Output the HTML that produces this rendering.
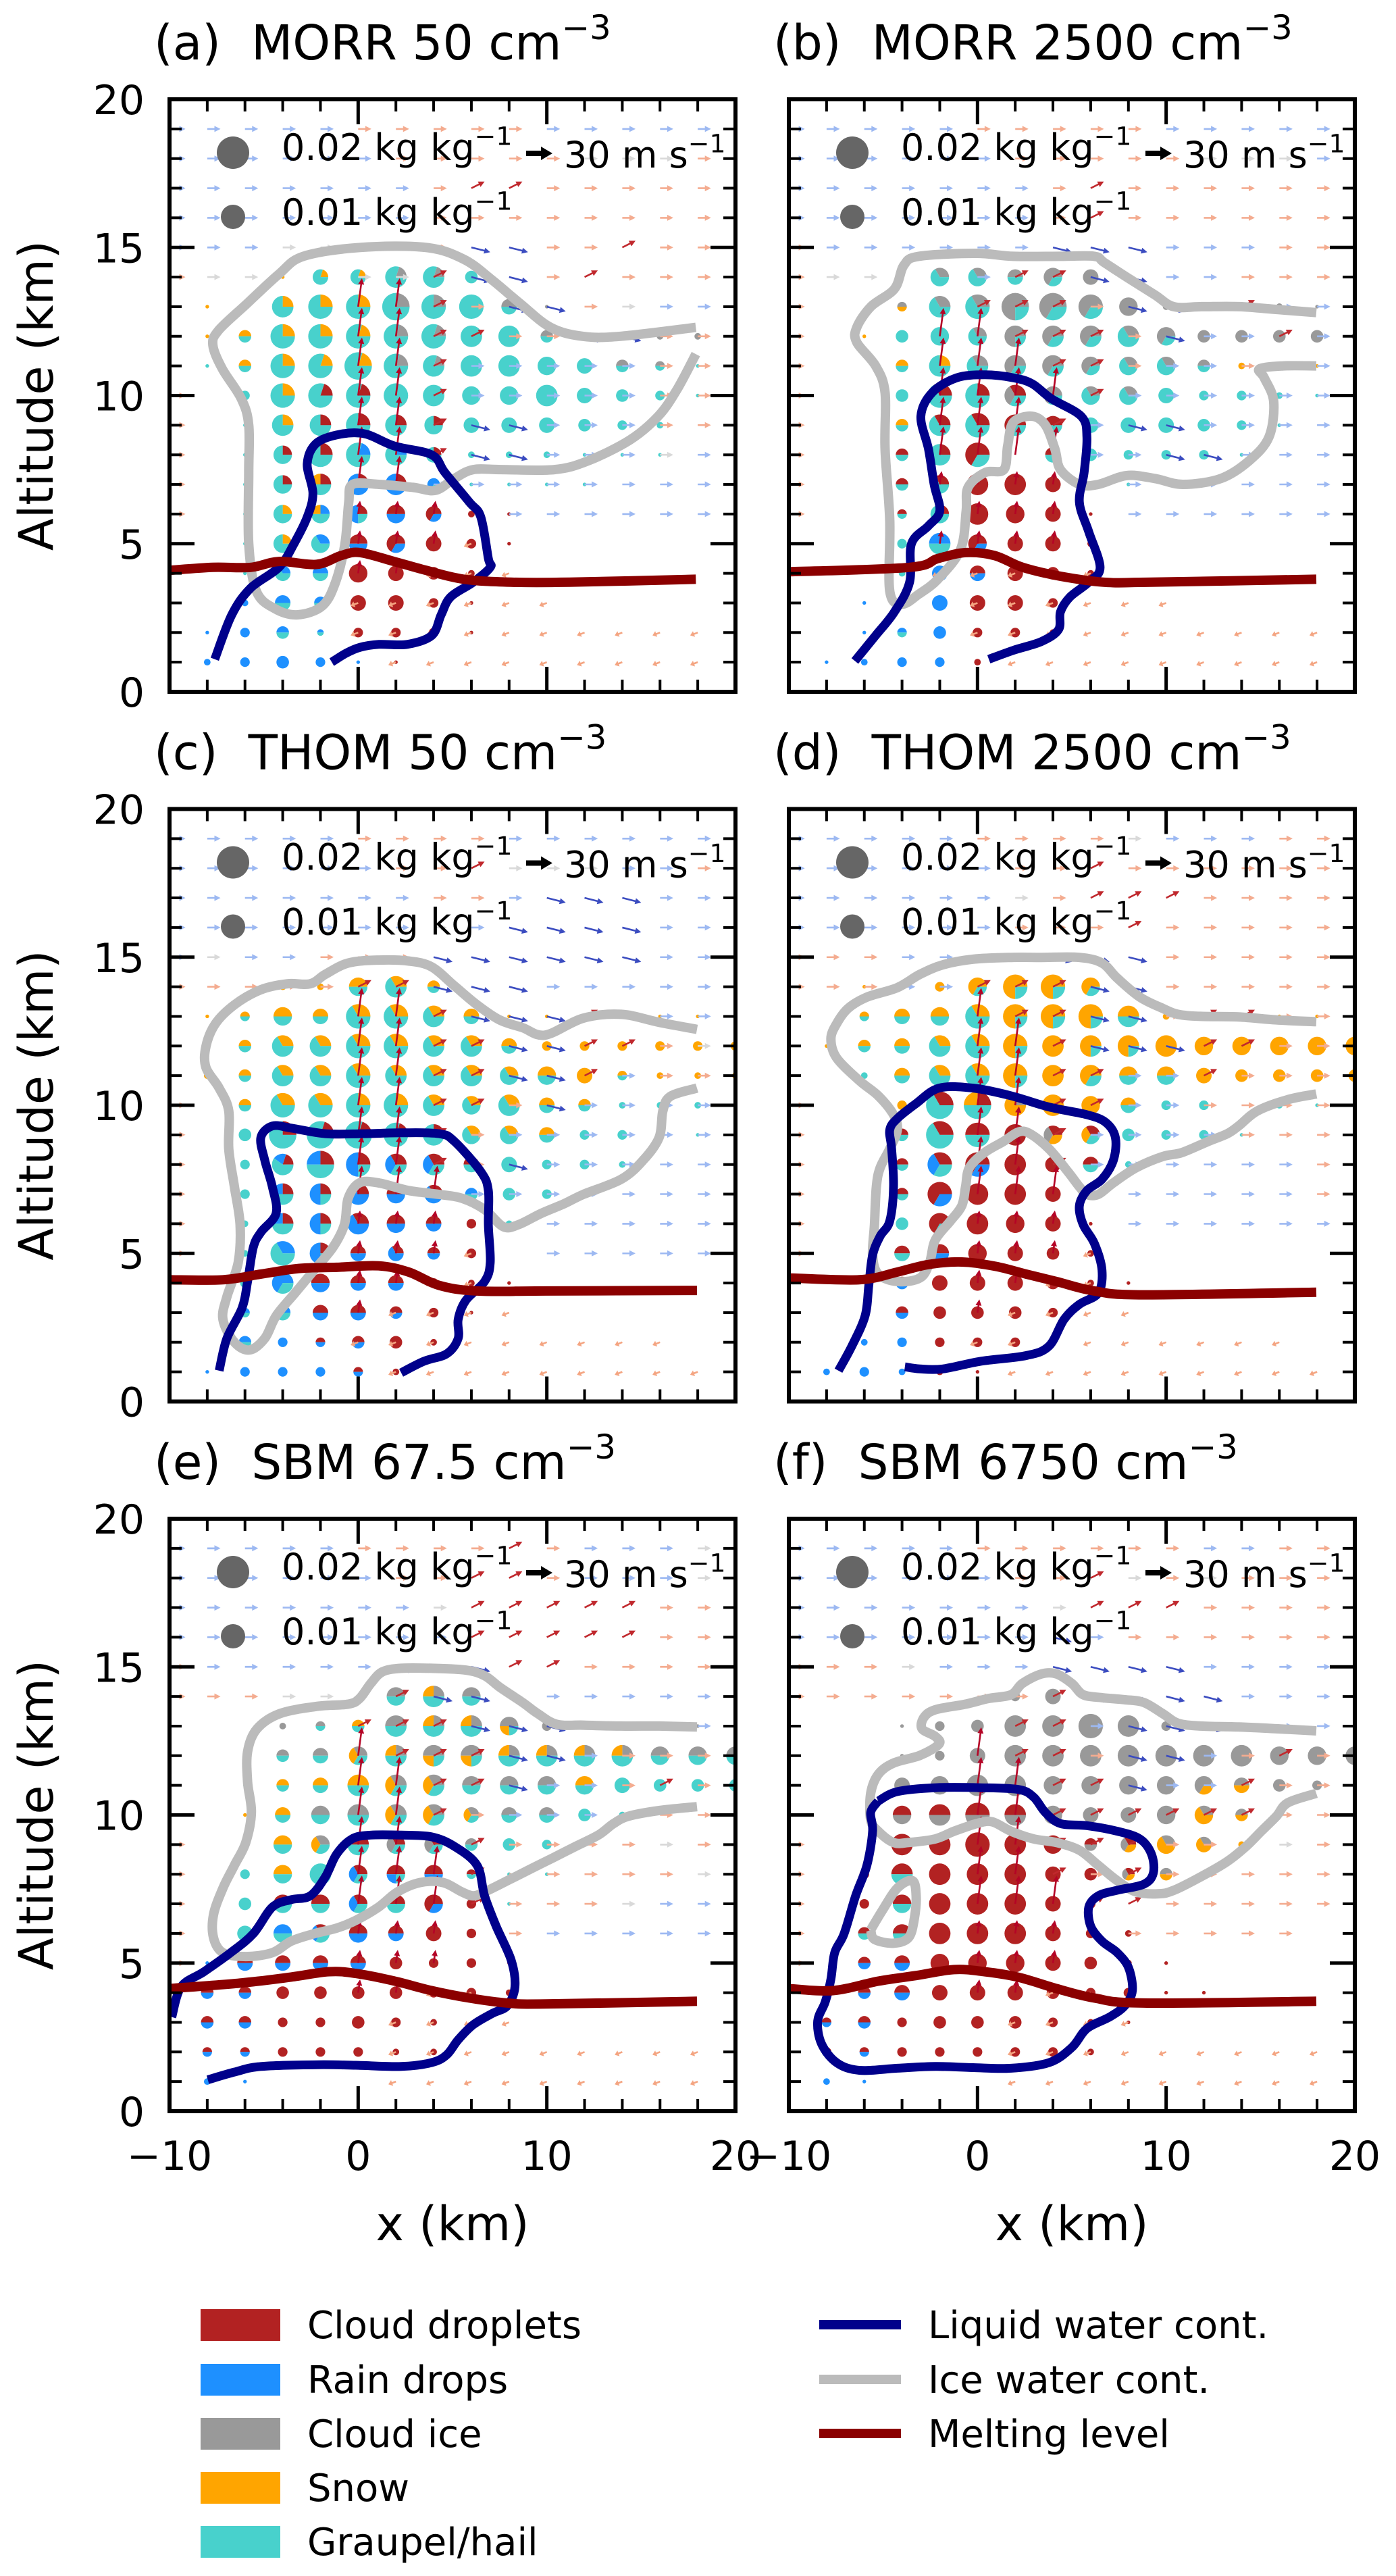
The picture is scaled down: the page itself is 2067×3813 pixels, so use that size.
<!DOCTYPE html>
<html><head><meta charset="utf-8"><title>Hydrometeor pie chart panels</title>
<style>
html,body{margin:0;padding:0;background:#fff;}
svg{display:block;font-family:"DejaVu Sans","Liberation Sans",sans-serif;}
</style></head>
<body>
<svg id="fig" xmlns="http://www.w3.org/2000/svg" width="2067" height="3813" viewBox="0 0 2067 3813">
<rect x="0" y="0" width="2067" height="3813" fill="#fff"/>
<g id="panels"></g>
<g id="legend">
  <rect x="297" y="3418" width="118" height="47" fill="#b22222"/>
  <text x="455" y="3461" font-size="56">Cloud droplets</text>
  <rect x="297" y="3499" width="118" height="47" fill="#1e90ff"/>
  <text x="455" y="3542" font-size="56">Rain drops</text>
  <rect x="297" y="3579" width="118" height="47" fill="#999999"/>
  <text x="455" y="3622" font-size="56">Cloud ice</text>
  <rect x="297" y="3659" width="118" height="47" fill="#ffa500"/>
  <text x="455" y="3702" font-size="56">Snow</text>
  <rect x="297" y="3739" width="118" height="47" fill="#48d1cc"/>
  <text x="455" y="3782" font-size="56">Graupel/hail</text>
  <line x1="1213" y1="3441" x2="1334" y2="3441" stroke="#00008b" stroke-width="14"/>
  <text x="1374" y="3461" font-size="56">Liquid water cont.</text>
  <line x1="1213" y1="3522" x2="1334" y2="3522" stroke="#bbbbbb" stroke-width="14"/>
  <text x="1374" y="3542" font-size="56">Ice water cont.</text>
  <line x1="1213" y1="3602" x2="1334" y2="3602" stroke="#8b0000" stroke-width="14"/>
  <text x="1374" y="3622" font-size="56">Melting level</text>
</g>
</svg>
<script>
// ---------------- DATA ----------------
const pieXs = [-8,-6,-4,-2,0,2,4,6,8,10,12,14,16,18,20];
const pieZs = [14,13,12,11,10,9,8,7,6,5,4,3,2,1];
const piesA = [
". . 1s 5ggggs 5ggggs 7ggggi 7ggggi 4g . . . . . . .",
"1s 2s 7gggs 8gggs 8gggs 9gggi 8gggi 8g 5gi 1i . . . . .",
"1s 4gs 8gggs 8gggs 8ggggs 8ggggi 8ggggi 7g 7g 4gi 2i 2i 2i 2i .",
"1g 4gs 8gggs 8ggggs 9ggggs 8ggggi 7ggggi 7g 7g 6g 5g 4gi 3gi 1g .",
". 3g 8gggs 8ggggc 8ggggc 8gggg 7g 6g 6g 7g 5g 4g 3g 1g .",
". 1g 7gggs 7gggc 8gggc 7gggc 6gggc 5g 5g 5g 4g 3g 2g . .",
". 1g 6gggc 8gggc 8ggggr 7gggr 5gggc 2g 2g 2g 1g 1g 1g . .",
". 1g 6gggc 7ggcs 7rrrc 7rrrc 4rrg 1g 1g 1g 1g . . . .",
". 1g 6gggs 6ggrs 6rrcg 6cr 5ccr 2c 1c . . . . . .",
". 1g 6gggs 6ggr 6cr 6ccr 5c 3c 1c . . . . . .",
". 1g 5ggr 5rg 6c 5c 4c 2c . . . . . . .",
". 2r 5rg 4rg 5c 5c 3c 1c . . . . . . .",
"1r 3r 4rg 2rg 3c 3c 3c 1c . . . . . . .",
"2r 3r 4r 3r 1r 1c . . . . . . . . ."];
const piesB = [
". . . 6ggi 6ggi 5gi 6iig 5i . . . . . . .",
". . 3is 7ggi 8ggi 9iiig 9iig 8iig 6i 2i 2i 2i 2i 1i .",
". 1s 4g 6g 6ggi 7iiig 7iig 7iig 7ggi 6iig 4i 4i 4i 4i 2i",
". . 4gs 7gggs 7ggi 7iig 7iig 6iig 6ggi 6ggi 4ig 2s 1s 1s .",
". . 4g 8ggc 8gggc 7icg 6iig 6ggi 6ggi 5g 3g 3g 2g 1g .",
". . 4gs 7ggc 8ggc 7ccg 6cg 5g 5g 5g 4g 3g 1g . .",
". . 4gc 7gggc 8ccg . 5cg 4g 3g 3g 3g 1g . . .",
". . 4gc 6ggc 7c 7c 5c 2g 1g . . . . . .",
". . 3gc 6ggc 7c 6c 5c 1c . . . . . . .",
". . 3g 7rrgg 6ccr 5c 5c 2c . . . . . . .",
". . 2g 5r 5cr 5c 4c 2c . . . . . . .",
". 1r 3rg 5r 5c 5c 3c . . . . . . . .",
". 1r 3rg 4r 3c 3c 2c . . . . . . . .",
"1r 2r 3r 3r 2c . . . . . . . . . ."];
const piesC = [
". . 2s 2s 6gs 7ggs 4sg . . . . . . . .",
"1s 3sg 6gs 5gs 8ggs 8ggs 7ggs 5sg 1s 1s 1s 1s 1s 1s .",
"1s 4gs 7ggs 7ggs 8ggs 8ggs 7ggs 7ggs 5sg 3s 3s 3s 3s 3s 3s",
"2s 4gs 7ggs 7ggs 8ggs 7ggs 7ggs 7ggs 6ggs 6gs 5s 3sg 2s 2s 2s",
". 4gs 8ggs 8ggs 8gggs 8gggs 7ggs 6ggs 7ggs 5gs 4gs 2g 2g 2g .",
". 4g 9gggc 9ggggc 9ggggc 8ggggc 7gggc 6ggs 6ggs 5gs 3g 3g 1g 1g .",
". 3g 7gggcr 9ggrc 8rrgc 7rgc 7grc 5gc 5g 3g 3g 2g . . .",
". 3g 7ggcr 7rrgc 7rrc 6rc 6rrc 4rg 4g 3g 2g . . . .",
". 2g 7ggrc 7rrgc 7rrc 6rc 5cr 3c 2g . . . . . .",
". 2g 8rgg 7rrgc 5rc 5crr 4cr 3c . . . . . . .",
". 3g 7rrg 6rc 5rc 5rc 3c 2c 1c . . . . . .",
". 3rg 5rg 5rc 5rc 4rc 3c 1c . . . . . . .",
". 4rg 3r 3rc 4cr 4c 2c . . . . . . . .",
"1r 3r 3r 3r 3rc 2c . . . . . . . . ."];
const piesD = [
". 1s 1s 3s 6ssg 8sssg 8sssg 6ssg . . . . . . .",
". 3sg 5sg 6sg 8ggs 8sssg 8sssg 8sssg 7sg 2s 1s 1s 1s 1s .",
"1s 4sg 5gs 7ggs 8ggs 8sssg 7s 7sssg 7sssg 7s 6s 6s 6s 6s 6s",
". 2g 5gs 7ggs 8ggs 8sssg 7s 7ssg 6gs 6sg 5s 4s 4s 4s 4s",
". . 3s 9ggc 9ggcs 7sssi 7s 6s 5gs 3g 3g . 2g 1g .",
". . 4cg 9ggc 8cg 7c 6cis 6csg 4g 3g 3g 1g . . .",
". . 4gc 8crg 8ccr 7c 5c 5cg 2g . . . . . .",
". . 4gc 8ccr 7c 7c 5c . . . . . . . .",
". . 4g 7ccg 7c 6c 5c 1c . . . . . . .",
". . 5gc 6cr 6c 5c 4c 2c . . . . . . .",
". . 4rc 5c 5c 5c 4c 2c 1c . . . . . .",
". 1r 4rc 4c 4c 4c 3c . . . . . . . .",
". 2r 3r 3c 3c 3c 2c . . . . . . . .",
"2r 3r 2r 2c 1c . . . . . . . . . ."];
const piesE = [
". . . . 1g 6gi 7ggsi 6gi . . . . . . .",
". . 2i 3gi 4gs 7gi 7ggis 7ggsi 6iigs 3i 2i 1i 1i 1i .",
". 1g 4gi 5gi 6gis 7ggis 7giis 7iigs 7ggis 7ggsi 7ggsi 7ggsi 6gi 6gi 6gi",
". 1g 4gs 5gs 7gs 7gis 7gis 6gi 6gi 6gi 6gs 5g 4g 4g 4g",
". 1s 5gs 6gi 7gi 7gis 7gsi 5gsi 5gi 5gi 4g 2g . . .",
". 1s 6gs 6gis 7gc 6gic 6igc 4gi 4g 3g 1g . . . .",
". 3g 6gs 7g 6grc 6rccg 6cr 3cg 1g 1g . . . . .",
". 4g 6gc 6gc 6rcg 6cg 6ccr 3c 1g . . . . . .",
". 5g 6rg 6rgc 6rc 5cr 5c 3c . . . . . . .",
"1r 5rc 5rc 5cr 5cr 4c 3c 3c 1c . . . . . .",
"4rc 4rc 4c 4c 4c 4c 3c 3c 2c . . . . . .",
"4rc 4cr 3c 3c 4c 3c 2c . . . . . . . .",
"3rc 3cr 3c 3c 3c 2c 2c . . . . . . . .",
"2r 1r . . . . . . . . . . . . ."];
const piesF = [
". . . . . 3i 5i . . . . . . . .",
". . 1i 3i 4i 7i 7i 8i 7i 3i 2i 1i . . .",
". . 1i 3i 5i 7i 7i 7i 7i 7i 7i 7i 6i 6i 6i",
". . 5i 6i 7i 7i 6i 6i 6i 6i 6iis 5is 4i 3i .",
". . 6ci 7ci 8ci 7ci 6i 5i 5i 6i 6iss 4is . . .",
". . 7c 7c 8c 7c 6c 4ci 5cis 6ssi 5ssi 2s . . .",
". 3c 7cg 7c 7c 7c 5c 4c 4csi 4si . . . . .",
". 3c 6cg 7c 7c 7c 5c 3c . . . . . . .",
". 4cg 6cg 7c 7c 7c 5c 3c 2c . . . . . .",
". 4cr 5cr 6c 6c 6c 5c 4c 2c 1c . . . . .",
"1r 4cr 5cr 5c 5c 5c 4c 3c 3c 1c 1c . . . .",
"3cr 4cr 3c 4c 4c 4c 3c 2c 1c . . . . . .",
"3cr 3cr 3c 3c 3c 3c 3c 2c . . . . . . .",
"2r 1r . . . . . . . . . . . . ."];

const arrowXs = [-10,-8,-6,-4,-2,0,2,4,6,8,10,12,14,16,18];
const arrowZs = [19,18,17,16,15,14,13,12,11,10,9,8,7,6,5,4,3,2,1];
const windA = ["bbbbbpppppbbbbb","bbbbbbpppppgggp","bbbbbbbpRRppppp","bbbbbbbpppppppp","bbbgggppBBppRpp","pgg..ggRBBpRppp",".....UURpBBpgbb",".....UURRppBBpp",".....UURbbbbbpp","p....UURbbbbbpp","p....UURBBbbbpp","p....UURBBbbbgb","p....UUbbbbbbbb","p....uuu.bbbbbb",".....uuul......",".....uulll.....",".....llllll....",".....llllllllll","......lllllllll"];
const windB = ["bbbbbpppppbbbbb","bbbbbbpppppgggb","bbbbbbbpRpppppp","bbbbbbbpRpppppp","pbbbbbbBBBbbbpp","pgg..bRRBBbbppp","p....RRRpBBbRbb","p...UURRRpBbbRb","p...UUURRpbbpbb","p...UUUURbbbbbb","p...UUURbBBbbbb","p...UUUUbbBBbbb","p...uuuu.bbbbbb","p...uuuu.bbbbbb","....uuuu.......","....lllll......",".....llllll....",".....llllllllll","......lllllllll"];
const windC = ["bbbbbppppbbbbbb","bbbbbbppRgggbbp","bbbbbbbppbBBBbb","bbbbbbbgbBBBBbb","bgbbpppBBBBBBbb","pppppRRBBBbbbbb",".....UURBBBRbbb",".....UURRBBRRpg",".....UURRBBRbpp","p....UURRpBbbbb","p....UURpbbbbbb","p....UURpBbbbbb","p....UUUbbbbbbb","p....uuu.bbbbbb","p....uuul.bbbbb",".....uull......",".....ullll.....",".....lllllllll.","......lllllllll"];
const windD = ["bbbbbppppgbbbpp","bbbbbbppRpppppp","bbbbbbgpRRRpppp","bbbbbbpppRppppp","pppbbbbBBBppppp","pppbbRRRBBppppp",".....URRBBpRRpp",".....UURBBBRRpp",".....UURRbbRppp","p....UURRbbpppp","p....UURbbbbppp","p....UURbbbbbbp","p....UUUbbbbbbp","p....uuu.bbbbbb","p....uuul......",".....uull......",".....ullll.....",".....lllllllll.","......lllllllll"];
const windE = ["bbbbbppppRpbbbg","bbbbbbppRRpbbbg","bbbbbbbgRRRRRpp","bbbbbbbbRRRRRpp","pbbbbbBBBRRpppp","pppgg.RBBbbbbbb",".....RRRBBBbbbb",".....URRRBBbppp",".....UURRBbbpRp",".....UURpbbbppp","p....UURRppppgp","p....UUURpppppg","p....UUURpppgbb","p....uuu.pbbbbb","p....uuu.......",".....uull......","......llll.....","......lllllllll","......lllllllll"];
const windF = ["bbbbbppppppbbpp","bbbbbbppRgpgppp","bbbbbbbgRRRpppp","bbbbbbbBbpppppp","pppgbbbBBBBbbbb","pppppppRBBBBbbb","......RRbBBBBbb",".....URRpBBbpRp",".....UURRBbbRpp",".....UURRRRRRpp","p....UURRRpppgp","p....UURpRppppp","p....UUURRppppp","p....uuu.ppppp.","p....uuu.......",".....uull......","......llll.....","......lllllllll","......lllllllll"];

const iceA = [[17.9,12.3],[13.9,12.0],[11.9,12.0],[10.2,12.3],[8.6,13.1],[7.1,13.9],[5.6,14.6],[3.6,15.0],[0.1,15.0],[-2.9,14.7],[-4.2,14.1],[-5.9,13.1],[-7.4,12.2],[-7.7,11.7],[-7.2,10.9],[-6.2,9.9],[-5.8,9.0],[-5.8,7.4],[-5.8,5.0],[-5.4,3.4],[-4.4,2.8],[-3.2,2.6],[-1.9,2.9],[-1.2,3.7],[-0.7,5.0],[-0.5,6.4],[-0.3,7.0],[1.1,7.0],[2.9,6.9],[4.1,6.8],[5.1,7.2],[6.1,7.5],[7.6,7.5],[10.4,7.5],[12.2,7.8],[14.4,8.5],[15.9,9.3],[16.9,10.2],[17.9,11.4]];
const liqA = [[-7.6,1.1],[-6.7,2.6],[-5.7,3.5],[-4.2,4.2],[-3.4,5.0],[-2.7,5.9],[-2.4,6.7],[-2.7,7.7],[-2.2,8.4],[-0.9,8.7],[0.4,8.7],[1.9,8.3],[3.9,8.0],[4.6,7.4],[5.9,6.4],[6.5,5.9],[6.9,4.5],[7.0,4.2],[6.1,3.7],[4.9,3.2],[4.4,2.6],[3.9,1.9],[2.6,1.6],[1.1,1.6],[0.1,1.5],[-0.65,1.3],[-1.4,1.0]];
const meltA = [[-10,4.1],[-7.7,4.2],[-5.7,4.2],[-4.2,4.4],[-2.2,4.3],[-0.9,4.6],[0.1,4.7],[1.9,4.4],[3.6,4.1],[5.6,3.8],[8.1,3.7],[11.2,3.7],[17.9,3.8]];
const iceB = [[17.96,12.8],[15.95,12.9],[13.9,13.0],[11.9,13.0],[10.4,13.0],[9.4,13.4],[7.9,14.0],[6.7,14.5],[6.2,14.7],[4.4,14.7],[1.9,14.7],[-0.1,14.8],[-3.1,14.7],[-3.9,14.4],[-4.4,13.6],[-5.65,13.0],[-6.4,12.3],[-6.4,11.8],[-5.4,11.0],[-4.9,10.1],[-4.9,8.2],[-4.65,5.8],[-4.65,3.4],[-4.0,2.96],[-3.1,3.3],[-2.1,3.8],[-0.9,4.8],[-0.6,6.1],[-0.5,6.9],[0.4,7.4],[1.4,7.5],[1.6,8.3],[1.9,9.1],[2.9,9.3],[3.6,9.0],[4.1,8.2],[4.4,7.5],[5.4,7.0],[6.4,7.0],[7.9,7.3],[9.4,7.2],[10.9,7.0],[12.9,7.2],[14.4,7.8],[15.45,8.6],[15.7,9.8],[15.2,10.6],[14.95,10.9],[16.2,11.0],[17.96,11.0]];
const liqB = [[-6.5,1.04],[-5.4,1.9],[-4.4,2.7],[-3.6,3.7],[-3.5,5.0],[-2.6,5.6],[-2.0,6.1],[-2.3,7.0],[-2.6,8.2],[-3.0,9.3],[-2.4,10.1],[-1.1,10.6],[0.4,10.7],[1.9,10.6],[2.9,10.4],[3.9,9.9],[5.5,9.3],[5.8,8.6],[5.65,7.4],[5.4,6.4],[5.9,5.4],[6.5,4.2],[5.9,3.7],[4.9,3.2],[4.4,2.7],[4.3,2.1],[3.4,1.7],[1.9,1.4],[0.6,1.1]];
const meltB = [[-10,4.05],[-3.6,4.2],[-2.1,4.5],[-0.6,4.7],[0.9,4.6],[2.4,4.2],[4.4,3.9],[6.7,3.7],[9.2,3.7],[17.96,3.8]];
const iceC = [[17.96,12.56],[15.95,12.8],[13.94,13.07],[11.93,12.94],[9.92,12.37],[8.71,12.62],[7.5,12.88],[6.3,13.39],[5.1,14.03],[3.9,14.67],[2.68,14.87],[1.08,14.9],[-0.53,14.8],[-1.74,14.42],[-2.54,14.1],[-3.75,14.1],[-5.16,13.9],[-6.56,13.39],[-7.57,12.75],[-8.07,11.98],[-8.07,11.28],[-7.37,10.58],[-6.86,9.81],[-6.86,8.53],[-6.56,7.25],[-6.26,5.97],[-6.36,4.69],[-6.96,3.53],[-7.17,2.77],[-6.56,2.0],[-5.76,1.74],[-4.95,2.13],[-4.35,2.89],[-3.35,3.66],[-2.34,4.43],[-1.34,5.2],[-0.73,5.97],[-0.53,6.86],[0.07,7.38],[1.08,7.38],[2.68,7.12],[4.29,6.99],[5.5,6.86],[6.7,6.48],[7.7,5.9],[8.5,5.97],[9.7,6.35],[10.9,6.67],[11.93,6.99],[13.94,7.5],[15.1,8.14],[15.95,8.91],[16.15,9.81],[16.55,10.3],[17.96,10.58]];
const liqC = [[-7.37,1.04],[-6.96,2.13],[-6.16,3.15],[-5.86,4.05],[-5.56,5.2],[-5.16,5.71],[-4.35,6.35],[-4.55,7.25],[-4.95,8.14],[-5.16,8.91],[-4.55,9.3],[-3.55,9.23],[-1.74,9.04],[0.27,9.04],[2.28,9.07],[4.29,9.04],[5.1,8.78],[6.5,7.76],[6.9,7.12],[6.9,5.97],[7.0,4.69],[6.7,4.05],[5.7,3.41],[5.3,2.77],[5.3,2.13],[4.69,1.61],[3.49,1.36],[2.28,0.97]];
const meltC = [[-10,4.11],[-7.17,4.11],[-5.16,4.3],[-3.15,4.49],[-1.14,4.53],[1.08,4.58],[2.68,4.37],[4.29,3.92],[6.3,3.73],[9.92,3.73],[17.96,3.75]];
const iceD = [[17.96,12.82],[15.85,12.88],[13.84,12.98],[11.83,13.0],[10.62,13.07],[9.82,13.27],[8.61,13.65],[7.41,14.29],[6.6,14.8],[5.4,14.99],[3.39,14.99],[1.78,14.99],[-0.23,14.93],[-1.84,14.74],[-3.05,14.42],[-4.25,13.97],[-5.86,13.65],[-6.86,13.27],[-7.47,12.75],[-7.77,12.24],[-7.47,11.6],[-6.26,10.83],[-5.26,10.32],[-4.45,9.68],[-4.25,9.17],[-4.65,8.53],[-5.16,7.89],[-5.36,7.25],[-5.46,5.97],[-5.56,4.94],[-5.26,4.3],[-4.25,4.05],[-3.05,4.17],[-2.54,4.69],[-2.24,5.45],[-1.44,6.09],[-0.83,6.61],[-0.63,7.25],[-0.43,7.89],[0.37,8.4],[1.38,8.78],[2.18,9.1],[2.78,9.04],[3.79,8.53],[4.79,7.76],[5.4,7.25],[5.8,6.99],[6.4,6.99],[7.2,7.38],[8.41,7.89],[9.82,8.27],[10.82,8.4],[12.23,8.78],[13.24,9.04],[13.84,9.3],[14.84,9.81],[16.45,10.19],[17.96,10.38]];
const liqD = [[-7.37,1.04],[-6.66,1.87],[-5.96,2.89],[-5.76,3.92],[-5.56,4.94],[-5.16,5.58],[-4.65,6.09],[-4.45,7.25],[-4.55,8.53],[-4.65,9.17],[-4.25,9.55],[-3.25,10.06],[-2.04,10.58],[-0.23,10.58],[1.78,10.32],[3.79,9.94],[5.8,9.68],[6.8,9.42],[7.31,8.91],[7.2,8.14],[6.6,7.5],[5.8,7.12],[5.4,6.61],[5.6,5.97],[6.2,5.33],[6.6,4.43],[6.4,3.66],[5.4,3.28],[4.59,2.77],[3.79,1.87],[2.58,1.55],[0.17,1.36],[-1.84,1.1],[-3.05,1.1],[-3.85,1.17]];
const meltD = [[-10,4.17],[-6.26,4.11],[-4.25,4.37],[-2.64,4.62],[-0.83,4.71],[0.97,4.56],[2.58,4.3],[4.19,4.05],[6.2,3.73],[8.81,3.6],[17.96,3.69]];
const iceE = [[17.96,12.97],[15.95,13.0],[13.94,13.0],[11.93,13.03],[10.52,13.06],[9.52,13.42],[8.71,13.8],[7.51,14.31],[6.7,14.7],[5.7,14.89],[3.89,14.95],[2.28,14.95],[1.28,14.83],[0.67,14.44],[0.07,13.93],[-0.53,13.74],[-2.14,13.67],[-4.15,13.42],[-5.36,12.91],[-5.86,12.14],[-5.86,11.11],[-5.66,10.09],[-5.96,9.07],[-6.56,8.3],[-7.17,7.53],[-7.67,6.63],[-7.67,5.86],[-7.17,5.35],[-5.96,5.22],[-4.55,5.35],[-3.55,5.74],[-2.34,5.99],[-1.14,6.18],[-0.13,6.44],[1.08,6.89],[2.08,7.4],[3.29,7.72],[4.49,7.72],[5.5,7.4],[6.1,7.27],[6.7,7.4],[7.91,7.78],[9.12,8.17],[10.32,8.55],[11.53,8.94],[12.73,9.32],[13.54,9.71],[14.34,9.96],[15.95,10.15],[17.96,10.28]];
const liqE = [[-9.88,3.18],[-9.38,4.2],[-8.17,4.71],[-6.76,5.35],[-5.56,5.99],[-4.55,6.89],[-3.55,7.14],[-2.54,7.27],[-1.74,7.91],[-1.14,8.68],[-0.33,9.19],[0.67,9.32],[2.28,9.32],[3.89,9.26],[5.1,8.94],[6.3,8.3],[6.7,7.27],[7.31,6.25],[8.11,5.1],[8.31,4.2],[7.91,3.56],[7.11,3.3],[6.1,2.92],[5.3,2.41],[4.69,1.9],[3.89,1.64],[2.28,1.51],[-0.13,1.55],[-2.14,1.57],[-5.16,1.51],[-6.56,1.32],[-7.97,1.06]];
const meltE = [[-10,4.14],[-6.16,4.33],[-3.55,4.53],[-1.54,4.71],[-0.13,4.65],[1.88,4.4],[3.89,4.07],[5.9,3.82],[7.91,3.65],[9.92,3.62],[17.96,3.71]];
const iceF = [[17.96,12.84],[15.85,12.91],[13.84,12.97],[11.83,13.0],[10.62,13.1],[9.82,13.42],[8.81,13.8],[7.81,13.89],[6.6,13.96],[5.6,14.06],[5.0,14.44],[4.19,14.76],[3.39,14.76],[2.38,14.44],[1.78,14.06],[0.57,13.93],[-0.63,13.74],[-2.24,13.55],[-2.84,13.29],[-2.94,12.91],[-2.24,12.65],[-2.04,12.39],[-3.05,12.01],[-4.45,11.75],[-5.26,11.37],[-5.66,10.73],[-5.66,9.83],[-5.26,9.45],[-4.45,9.07],[-3.65,9.07],[-2.24,9.19],[-1.24,9.45],[-0.03,9.71],[0.77,9.77],[1.78,9.45],[2.98,9.19],[4.19,9.07],[5.4,8.81],[6.4,8.3],[7.41,7.78],[8.41,7.4],[9.62,7.34],[10.42,7.46],[11.83,7.91],[13.24,8.43],[14.24,8.94],[15.04,9.45],[15.85,9.96],[16.45,10.41],[17.96,10.73]];
const iceF2 = [[-5.66,6.12],[-5.06,6.76],[-4.25,7.53],[-3.45,7.78],[-3.25,7.27],[-3.35,6.5],[-3.65,5.86],[-4.45,5.67],[-5.46,5.8],[-5.66,6.12]];
const liqF = [[-5.26,10.47],[-4.25,10.79],[-2.24,10.92],[0.17,10.92],[2.18,10.86],[2.98,10.6],[3.59,10.09],[4.39,9.71],[5.8,9.64],[7.41,9.45],[8.61,9.19],[9.22,8.68],[9.32,8.04],[8.81,7.66],[7.41,7.46],[6.4,7.27],[5.9,6.89],[6.0,6.25],[6.6,5.74],[7.41,5.35],[8.01,4.84],[8.21,4.07],[7.81,3.56],[7.0,3.18],[5.8,2.79],[5.0,2.15],[3.79,1.64],[1.78,1.45],[-0.23,1.47],[-2.24,1.51],[-4.25,1.45],[-6.26,1.38],[-7.47,1.64],[-8.27,2.28],[-8.47,3.05],[-8.07,3.69],[-7.77,4.46],[-7.57,5.35],[-7.07,5.99],[-6.46,7.27],[-5.86,8.3],[-5.56,9.45],[-5.66,10.09],[-5.26,10.47]];
const meltF = [[-10,4.14],[-7.67,4.07],[-5.26,4.39],[-3.25,4.58],[-1.24,4.78],[0.37,4.71],[2.18,4.52],[4.19,4.14],[6.2,3.82],[8.81,3.65],[17.96,3.71]];

const titles = ["(a)  MORR 50 cm","(b)  MORR 2500 cm","(c)  THOM 50 cm","(d)  THOM 2500 cm","(e)  SBM 67.5 cm","(f)  SBM 6750 cm"];
const yTickLabels = ["0","5","10","15","20"];
const yTickVals = [0,5,10,15,20];
const xTickLabels = ["\u221210","0","10","20"];
const xTickVals = [-10,0,10,20];

// ---------------- DRAW ----------------
const NS = "http://www.w3.org/2000/svg";
const root = document.getElementById('panels');
function mk(tag, attrs, parent){
  const e = document.createElementNS(NS, tag);
  for (const k in attrs) e.setAttribute(k, attrs[k]);
  (parent||root).appendChild(e);
  return e;
}
const PW = 838, PH = 877;
const colX = [251, 1168];
const rowY = [147, 1197.5, 2248];
const speciesColor = {c:'#b22222', r:'#1e90ff', i:'#999999', s:'#ffa500', g:'#48d1cc'};
const speciesOrder = ['c','r','i','s','g'];
const windStyle = {
  b:{u:14,w:0,col:'#9db9f2'}, p:{u:14,w:0,col:'#f4ac90'}, g:{u:14,w:0,col:'#d9d9d9'},
  B:{u:20,w:-5,col:'#3b4cc0'}, R:{u:14,w:7,col:'#c0282d'}, U:{u:4,w:30,col:'#b40426'},
  u:{u:2,w:14,col:'#b40426'}, l:{u:-8,w:-3,col:'#f4a582'}
};
const panels = [
 {id:'a', pies:piesA, wind:windA, ice:[iceA], liq:liqA, melt:meltA},
 {id:'b', pies:piesB, wind:windB, ice:[iceB], liq:liqB, melt:meltB},
 {id:'c', pies:piesC, wind:windC, ice:[iceC], liq:liqC, melt:meltC},
 {id:'d', pies:piesD, wind:windD, ice:[iceD], liq:liqD, melt:meltD},
 {id:'e', pies:piesE, wind:windE, ice:[iceE], liq:liqE, melt:meltE},
 {id:'f', pies:piesF, wind:windF, ice:[iceF, iceF2], liq:liqF, melt:meltF}
];

function smoothPath(pts, sx, sy){
  const p = pts.map(q => [sx(q[0]), sy(q[1])]);
  let d = 'M' + p[0][0].toFixed(1) + ',' + p[0][1].toFixed(1);
  for (let i = 0; i < p.length - 1; i++){
    const p0 = p[i-1] || p[i], p1 = p[i], p2 = p[i+1], p3 = p[i+2] || p2;
    const c1x = p1[0] + (p2[0]-p0[0])/6, c1y = p1[1] + (p2[1]-p0[1])/6;
    const c2x = p2[0] - (p3[0]-p1[0])/6, c2y = p2[1] - (p3[1]-p1[1])/6;
    d += ' C' + c1x.toFixed(1)+','+c1y.toFixed(1)+' '+c2x.toFixed(1)+','+c2y.toFixed(1)+' '+p2[0].toFixed(1)+','+p2[1].toFixed(1);
  }
  return d;
}

function supText(parent, x, y, size, main, sup, name){
  const t = mk('text', {x:x, y:y, 'font-size':size, 'xml:space':'preserve'}, parent);
  
  
  t.style.whiteSpace = 'pre';
  const a = mk('tspan', {}, t); a.textContent = main;
  const b = mk('tspan', {dy: -size*0.42, 'font-size': size*0.7}, t); b.textContent = sup;
  return t;
}

panels.forEach((P, idx) => {
  const col = idx % 2, row = Math.floor(idx/2);
  const x0 = colX[col], y0 = rowY[row];
  const sx = x => x0 + (x + 10) / 30 * PW;
  const sy = z => y0 + PH - z / 20 * PH;
  const g = mk('g', {});
  
  

  const clip = mk('clipPath', {id:'clip'+P.id}, g);
  mk('rect', {x:x0, y:y0, width:PW, height:PH}, clip);
  const plot = mk('g', {'clip-path':'url(#clip'+P.id+')'}, g);
  
  

  supText(g, x0 - 23, y0 - 59, 71, titles[idx], '\u22123', 'panel-title-' + P.id);

  const pieG = mk('g', {}, plot);
  
  
  P.pies.forEach((line, ri) => {
    const toks = line.trim().split(/\s+/);
    toks.forEach((tk, ci) => {
      if (tk === '.' || ci >= pieXs.length) return;
      const s = parseInt(tk[0], 10);
      const letters = tk.slice(1);
      const cnt = {}; let tot = 0;
      for (const ch of letters){ cnt[ch] = (cnt[ch]||0) + 1; tot++; }
      const cx = sx(pieXs[ci]), cy = sy(pieZs[ri]);
      const r = 2.2 * s + 0.5;
      const parts = speciesOrder.filter(k => cnt[k]);
      if (parts.length === 1){
        const c = mk('circle', {cx:cx, cy:cy, r:r, fill:speciesColor[parts[0]]}, pieG);
        
        
        return;
      }
      let a = 0;
      parts.forEach(k => {
        const da = cnt[k] / tot * Math.PI * 2;
        const a2 = a + da;
        const xA = cx + r*Math.cos(a), yA = cy - r*Math.sin(a);
        const xB = cx + r*Math.cos(a2), yB = cy - r*Math.sin(a2);
        const large = da > Math.PI ? 1 : 0;
        const w = mk('path', {d:'M'+cx+','+cy+' L'+xA+','+yA+' A'+r+','+r+' 0 '+large+' 0 '+xB+','+yB+' Z', fill:speciesColor[k]}, pieG);
        
        
        a = a2;
      });
    });
  });

  const arG = mk('g', {}, plot);
  
  
  P.wind.forEach((line, ri) => {
    for (let ci = 0; ci < line.length && ci < arrowXs.length; ci++){
      const st = windStyle[line[ci]];
      if (!st) continue;
      const tx = sx(arrowXs[ci]) + (arrowXs[ci] === -10 ? 4 : 0), ty = sy(arrowZs[ri]);
      const dx = st.u * 1.4, dy = -st.w * 1.4;
      const L = Math.hypot(dx, dy); const ux = dx/L, uy = dy/L, nx = -uy, ny = ux;
      const hl = Math.min(9, L*0.5), hw = 4.5, sw = 1.3;
      const bx = tx + ux*(L-hl), by = ty + uy*(L-hl);
      const pts = [[tx+nx*sw, ty+ny*sw],[bx+nx*sw, by+ny*sw],[bx+nx*hw, by+ny*hw],[tx+dx, ty+dy],[bx-nx*hw, by-ny*hw],[bx-nx*sw, by-ny*sw],[tx-nx*sw, ty-ny*sw]];
      const ar = mk('polygon', {points: pts.map(p => p[0].toFixed(1)+','+p[1].toFixed(1)).join(' '), fill:st.col}, arG);
      
      
    }
  });

  P.ice.forEach(c => {
    const e = mk('path', {d:smoothPath(c, sx, sy), fill:'none', stroke:'#bbbbbb', 'stroke-width':14, 'stroke-linejoin':'round'}, plot);
    
    
  });
  const lq = mk('path', {d:smoothPath(P.liq, sx, sy), fill:'none', stroke:'#00008b', 'stroke-width':13, 'stroke-linejoin':'round'}, plot);
  
  
  const ml = mk('path', {d:smoothPath(P.melt, sx, sy), fill:'none', stroke:'#8b0000', 'stroke-width':14}, plot);
  
  

  const lg = mk('g', {}, g);
  
  
  const c1 = mk('circle', {cx:x0+94, cy:y0+79, r:24, fill:'#666666'}, lg);
  
  
  const c2 = mk('circle', {cx:x0+94, cy:y0+174, r:18, fill:'#666666'}, lg);
  
  
  supText(lg, x0+166, y0+90, 54, '0.02 kg kg', '\u22121', 'legend-label-0.02');
  supText(lg, x0+166, y0+186, 54, '0.01 kg kg', '\u22121', 'legend-label-0.01');
  const rx = x0 + 528, ry = y0 + 80;
  const ra = mk('polygon', {points:(rx)+','+(ry-4)+' '+(rx+22)+','+(ry-4)+' '+(rx+22)+','+(ry-10)+' '+(rx+39)+','+ry+' '+(rx+22)+','+(ry+10)+' '+(rx+22)+','+(ry+4)+' '+rx+','+(ry+4), fill:'#000'}, lg);
  
  
  supText(lg, x0+584, y0+101, 54, '30 m s', '\u22121', 'reference-arrow-label');

  const tk = mk('g', {stroke:'#000'}, g);
  
  
  for (let z = 1; z < 20; z++){
    const major = z % 5 === 0; const L = major ? 37 : 18; const w = major ? 5 : 4;
    mk('line', {x1:x0, y1:sy(z), x2:x0+L, y2:sy(z), 'stroke-width':w}, tk);
    mk('line', {x1:x0+PW, y1:sy(z), x2:x0+PW-L, y2:sy(z), 'stroke-width':w}, tk);
  }
  for (let x = -8; x < 20; x += 2){
    const major = x % 10 === 0; const L = major ? 37 : 18; const w = major ? 5 : 4;
    mk('line', {x1:sx(x), y1:y0+PH, x2:sx(x), y2:y0+PH-L, 'stroke-width':w}, tk);
    mk('line', {x1:sx(x), y1:y0, x2:sx(x), y2:y0+L, 'stroke-width':w}, tk);
  }
  const frame = mk('rect', {x:x0, y:y0, width:PW, height:PH, fill:'none', stroke:'#000', 'stroke-width':6}, g);
  
  

  if (col === 0){
    yTickVals.forEach((v, i) => {
      const t = mk('text', {x:214, y:sy(v)+22, 'font-size':60, 'text-anchor':'end'}, g);
      
      
      t.textContent = yTickLabels[i];
    });
    const yl = mk('text', {x:0, y:0, 'font-size':70, 'text-anchor':'middle', transform:'translate(78,'+(y0+PH/2)+') rotate(-90)'}, g);
    
    
    yl.textContent = 'Altitude (km)';
  }
  if (row === 2){
    xTickVals.forEach((v, i) => {
      const t = mk('text', {x:sx(v), y:3212, 'font-size':60, 'text-anchor':'middle'}, g);
      
      
      t.textContent = xTickLabels[i];
    });
    const xl = mk('text', {x:x0+PW/2, y:3316, 'font-size':70, 'text-anchor':'middle'}, g);
    
    
    xl.textContent = 'x (km)';
  }
});
</script>
</body></html>
